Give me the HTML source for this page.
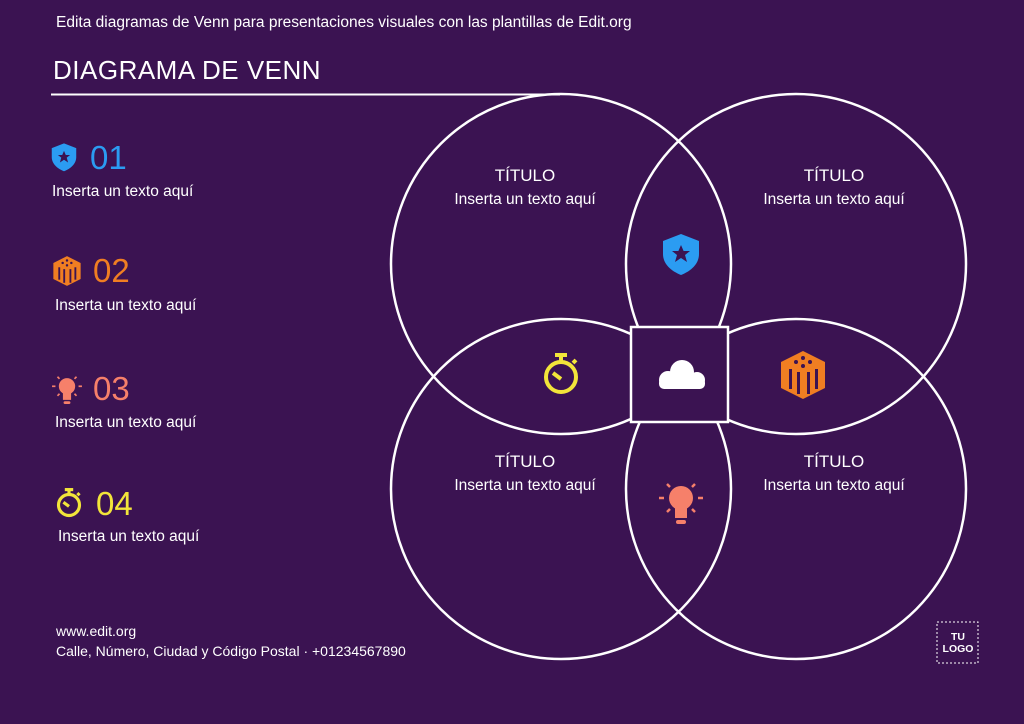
<!DOCTYPE html>
<html><head><meta charset="utf-8"><style>
body{margin:0;width:1024px;height:724px;background:#3b1352;overflow:hidden;font-family:"Liberation Sans",sans-serif;color:#fff;position:relative}
.t{position:absolute;white-space:nowrap}
</style></head><body>
<div class="t" style="left:56px;top:14px;font-size:15.5px">Edita diagramas de Venn para presentaciones visuales con las plantillas de Edit.org</div>
<div class="t" style="left:53px;top:55px;font-size:26px;letter-spacing:0.5px">DIAGRAMA DE VENN</div>
<svg width="1024" height="724" style="position:absolute;left:0;top:0">
<line x1="51" y1="94.5" x2="560" y2="94.5" stroke="#fff" stroke-width="2"/>
<g fill="none" stroke="#fff" stroke-width="2.5">
<circle cx="561" cy="264" r="170"/><circle cx="796" cy="264" r="170"/>
<circle cx="561" cy="489" r="170"/><circle cx="796" cy="489" r="170"/>
</g>
<rect x="631" y="327" width="97" height="95" fill="#3b1352" stroke="#fff" stroke-width="2.5"/>
<g fill="#fff"><circle cx="682" cy="372" r="12"/><circle cx="668" cy="380" r="9"/><circle cx="697" cy="380" r="8"/><rect x="659" y="378" width="46" height="11" rx="5"/></g>
<g transform="translate(681,254)"><path d="M0,-20 L18,-13 L18,0 C18,10 10,17 0,21 C-10,17 -18,10 -18,0 L-18,-13 Z" fill="#2b9cf2"/><polygon points="0,-9 2.6,-3 9,-3 4,1 6,8 0,4 -6,8 -4,1 -9,-3 -2.6,-3" fill="#3b1352"/></g>
<g transform="translate(64,157) scale(0.68)"><path d="M0,-20 L18,-13 L18,0 C18,10 10,17 0,21 C-10,17 -18,10 -18,0 L-18,-13 Z" fill="#2b9cf2"/><polygon points="0,-9 2.6,-3 9,-3 4,1 6,8 0,4 -6,8 -4,1 -9,-3 -2.6,-3" fill="#3b1352"/></g>
<g transform="translate(561,377)" fill="none" stroke="#f2e53a" stroke-width="4"><circle r="15"/><line x1="0" y1="-15" x2="0" y2="-21"/><line x1="-6" y1="-22" x2="6" y2="-22"/><line x1="12" y1="-14" x2="15" y2="-17"/><line x1="0" y1="2" x2="-8" y2="-4"/></g>
<g transform="translate(69,505) scale(0.7)" fill="none" stroke="#f2e53a" stroke-width="4.5"><circle r="15"/><line x1="0" y1="-15" x2="0" y2="-21"/><line x1="-6" y1="-22" x2="6" y2="-22"/><line x1="12" y1="-14" x2="15" y2="-17"/><line x1="0" y1="2" x2="-8" y2="-4"/></g>
<g transform="translate(803,375)"><polygon points="0,-24 22,-13 22,13 0,24 -22,13 -22,-13" fill="#f07e22"/><g fill="#3b1352"><rect x="-14" y="-6" width="3" height="20"/><rect x="-6" y="-3" width="3" height="22"/><rect x="4" y="-3" width="3" height="22"/><rect x="12" y="-6" width="3" height="20"/><circle cx="0" cy="-17" r="2"/><circle cx="-7" cy="-13" r="2"/><circle cx="7" cy="-13" r="2"/><circle cx="0" cy="-9" r="2"/></g></g>
<g transform="translate(67,271) scale(0.62)"><polygon points="0,-24 22,-13 22,13 0,24 -22,13 -22,-13" fill="#f07e22"/><g fill="#3b1352"><rect x="-14" y="-6" width="3" height="20"/><rect x="-6" y="-3" width="3" height="22"/><rect x="4" y="-3" width="3" height="22"/><rect x="12" y="-6" width="3" height="20"/><circle cx="0" cy="-17" r="2"/><circle cx="-7" cy="-13" r="2"/><circle cx="7" cy="-13" r="2"/><circle cx="0" cy="-9" r="2"/></g></g>
<g transform="translate(681,502)"><circle cx="0" cy="-4" r="12" fill="#f6806a"/><rect x="-6" y="4" width="12" height="12" fill="#f6806a"/><rect x="-5" y="18" width="10" height="4" rx="2" fill="#f6806a"/><g stroke="#f6806a" stroke-width="2.5"><line x1="-22" y1="-4" x2="-17" y2="-4"/><line x1="17" y1="-4" x2="22" y2="-4"/><line x1="-14" y1="-18" x2="-11" y2="-15"/><line x1="14" y1="-18" x2="11" y2="-15"/><line x1="-14" y1="10" x2="-11" y2="7"/><line x1="14" y1="10" x2="11" y2="7"/></g></g>
<g transform="translate(67,389) scale(0.68)"><circle cx="0" cy="-4" r="12" fill="#f6806a"/><rect x="-6" y="4" width="12" height="12" fill="#f6806a"/><rect x="-5" y="18" width="10" height="4" rx="2" fill="#f6806a"/><g stroke="#f6806a" stroke-width="2.5"><line x1="-22" y1="-4" x2="-17" y2="-4"/><line x1="17" y1="-4" x2="22" y2="-4"/><line x1="-14" y1="-18" x2="-11" y2="-15"/><line x1="14" y1="-18" x2="11" y2="-15"/><line x1="-14" y1="10" x2="-11" y2="7"/><line x1="14" y1="10" x2="11" y2="7"/></g></g>
<rect x="937" y="622" width="41" height="41" fill="none" stroke="#fff" stroke-width="1" stroke-dasharray="2,2"/>
</svg>
<div class="t" style="left:90px;top:139px;font-size:33px;color:#2b9cf2">01</div>
<div class="t" style="left:52px;top:183px;font-size:15.5px">Inserta un texto aquí</div>
<div class="t" style="left:93px;top:252px;font-size:33px;color:#f07e22">02</div>
<div class="t" style="left:55px;top:297px;font-size:15.5px">Inserta un texto aquí</div>
<div class="t" style="left:93px;top:370px;font-size:33px;color:#f6806a">03</div>
<div class="t" style="left:55px;top:414px;font-size:15.5px">Inserta un texto aquí</div>
<div class="t" style="left:96px;top:485px;font-size:33px;color:#f2e53a">04</div>
<div class="t" style="left:58px;top:528px;font-size:15.5px">Inserta un texto aquí</div>
<div class="t" style="left:452px;top:166px;width:146px;text-align:center;font-size:17px">TÍTULO</div>
<div class="t" style="left:433px;top:191px;width:184px;text-align:center;font-size:15.5px">Inserta un texto aquí</div>
<div class="t" style="left:761px;top:166px;width:146px;text-align:center;font-size:17px">TÍTULO</div>
<div class="t" style="left:742px;top:191px;width:184px;text-align:center;font-size:15.5px">Inserta un texto aquí</div>
<div class="t" style="left:452px;top:452px;width:146px;text-align:center;font-size:17px">TÍTULO</div>
<div class="t" style="left:433px;top:477px;width:184px;text-align:center;font-size:15.5px">Inserta un texto aquí</div>
<div class="t" style="left:761px;top:452px;width:146px;text-align:center;font-size:17px">TÍTULO</div>
<div class="t" style="left:742px;top:477px;width:184px;text-align:center;font-size:15.5px">Inserta un texto aquí</div>
<div class="t" style="left:56px;top:623px;font-size:14px">www.edit.org</div>
<div class="t" style="left:56px;top:643px;font-size:14px">Calle, Número, Ciudad y Código Postal · +01234567890</div>
<div class="t" style="left:937px;top:631px;width:42px;text-align:center;font-size:10.5px;font-weight:bold;line-height:12px">TU<br>LOGO</div>
</body></html>
